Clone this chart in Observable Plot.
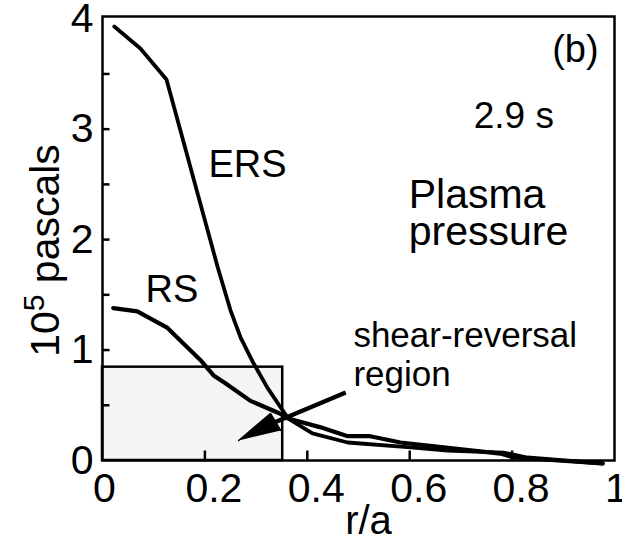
<!DOCTYPE html>
<html><head><meta charset="utf-8">
<script src="https://cdn.jsdelivr.net/npm/d3@7"></script>
<script src="https://cdn.jsdelivr.net/npm/@observablehq/plot@0.6"></script>
<style>html,body{margin:0;padding:0;background:#fff;}</style>
</head><body><div id="chart"></div>
<script>
// ERS profile (enhanced reversed shear)
const ersX = [0.023, 0.074, 0.125, 0.225, 0.25, 0.27, 0.295, 0.322, 0.348, 0.363, 0.41, 0.479, 0.602, 0.674, 0.783, 0.83, 0.977];
const ersY = [3.93, 3.73, 3.45, 1.75, 1.36, 1.11, 0.88, 0.66, 0.48, 0.38, 0.245, 0.163, 0.118, 0.09, 0.072, 0.027, -0.027];
// RS profile (reversed shear)
const rsX = [0.021, 0.068, 0.127, 0.191, 0.217, 0.24, 0.289, 0.344, 0.363, 0.426, 0.479, 0.523, 0.582, 0.777, 0.803, 0.977];
const rsY = [1.38, 1.35, 1.20, 0.91, 0.77, 0.70, 0.54, 0.43, 0.38, 0.30, 0.22, 0.22, 0.163, 0.063, 0.027, -0.027];

const xTickValues = [0.2, 0.4, 0.6, 0.8];
const xLabelValuesWide = [0.2, 0.4, 0.6, 0.8];
const xLabelValuesNarrow = [0, 1];
const yTickValues = [0.5, 1, 1.5, 2, 2.5, 3, 3.5];
const yLabelValues = [0, 1, 2, 3, 4];

// shaded shear-reversal region
const shadeX = [0, 0.352];
const shadeY = [0, 0.845];

// arrow pointing into the region
const arrowLineX = [0.475, 0.338];
const arrowLineY = [0.616, 0.349];
const arrowHeadX = [0.266, 0.328, 0.348];
const arrowHeadY = [0.181, 0.426, 0.272];

const curveLabels = ["ERS", "RS"];
const curveLabelX = [0.207, 0.084];
const curveLabelY = [2.563, 1.431];

const panelLabel = "(b)";
const panelLabelX = 0.969, panelLabelY = 3.605;
const timeLabel = "2.9 s";
const timeLabelX = 0.725, timeLabelY = 3.007;
const titleLines = ["Plasma", "pressure"];
const titleX = [0.598, 0.598];
const titleY = [2.283, 1.947];
const regionLines = ["shear-reversal", "region"];
const regionX = [0.49, 0.49];
const regionY = [1.024, 0.679];

const yLabel = "10⁵ pascals";
const xLabel = "r/a";

const W = 622, H = 539, ML = 102, MR = 8, MT = 16, MB = 79;
const xDomain = [0, 1], yDomain = [0, 4.02];
const frameW = W - ML - MR, frameH = H - MT - MB;
// tick lengths in pixels, converted to data units for the inward ticks
const xTickLen = 10 * (yDomain[1] - yDomain[0]) / frameH;
const yTickLen = 7 * (xDomain[1] - xDomain[0]) / frameW;

const toRows = (xs, ys) => xs.map((x, i) => ({x, y: ys[i]}));
const idx = (a) => a.map((_, i) => i);
const fmt = d => String(d);

const plot = Plot.plot({
  width: W,
  height: H,
  marginLeft: ML,
  marginRight: MR,
  marginTop: MT,
  marginBottom: MB,
  style: {fontFamily: "'Liberation Sans', Arial, sans-serif", fontSize: "41px", color: "black", background: "white", overflow: "visible"},
  x: {domain: xDomain, axis: null},
  y: {domain: yDomain, axis: null},
  marks: [
    Plot.rect([0], {x1: shadeX[0], x2: shadeX[1], y1: shadeY[0], y2: shadeY[1], fill: "#f4f4f4", stroke: "black", strokeWidth: 2.5}),
    Plot.frame({stroke: "black", strokeWidth: 2.5}),
    // inward tick marks
    Plot.link(yTickValues, {x1: xDomain[0], x2: xDomain[0] + yTickLen, y1: d => d, y2: d => d, stroke: "black", strokeWidth: 2.5}),
    Plot.link(xTickValues, {x1: d => d, x2: d => d, y1: yDomain[0], y2: yDomain[0] + xTickLen, stroke: "black", strokeWidth: 2.5}),
    // tick labels
    Plot.axisY({ticks: yLabelValues, tickSize: 0, tickPadding: 9, fontSize: 41, label: null, tickFormat: fmt}),
    Plot.axisX({ticks: xLabelValuesWide, tickSize: 0, tickPadding: 12, dx: 9, fontSize: 41, label: null, tickFormat: fmt}),
    Plot.axisX({ticks: xLabelValuesNarrow, tickSize: 0, tickPadding: 12, dx: 2, fontSize: 41, label: null, tickFormat: fmt}),
    Plot.line(toRows(ersX, ersY), {x: "x", y: "y", stroke: "black", strokeWidth: 3.8, strokeLinejoin: "round"}),
    Plot.line(toRows(rsX, rsY), {x: "x", y: "y", stroke: "black", strokeWidth: 4.2, strokeLinejoin: "round"}),
    Plot.link([0], {x1: arrowLineX[0], y1: arrowLineY[0], x2: arrowLineX[1], y2: arrowLineY[1], stroke: "black", strokeWidth: 4.5}),
    Plot.line(toRows(arrowHeadX, arrowHeadY), {x: "x", y: "y", fill: "black", stroke: "black", strokeWidth: 1.5, strokeLinejoin: "round"}),
    Plot.text(idx(curveLabels), {x: i => curveLabelX[i], y: i => curveLabelY[i], text: i => curveLabels[i], textAnchor: "start", lineAnchor: "bottom", fontSize: 38}),
    Plot.text([panelLabel], {x: panelLabelX, y: panelLabelY, text: d => d, textAnchor: "end", lineAnchor: "bottom", fontSize: 38}),
    Plot.text([timeLabel], {x: timeLabelX, y: timeLabelY, text: d => d, textAnchor: "start", lineAnchor: "bottom", fontSize: 37}),
    Plot.text(idx(titleLines), {x: i => titleX[i], y: i => titleY[i], text: i => titleLines[i], textAnchor: "start", lineAnchor: "bottom", fontSize: 41}),
    Plot.text(idx(regionLines), {x: i => regionX[i], y: i => regionY[i], text: i => regionLines[i], textAnchor: "start", lineAnchor: "bottom", fontSize: 35}),
    Plot.text([yLabel], {frameAnchor: "left", rotate: -90, dx: -44, dy: 12, text: d => d, textAnchor: "middle", lineAnchor: "bottom", fontSize: 41}),
    Plot.text([xLabel], {frameAnchor: "bottom", dx: 10, dy: 73, text: d => d, textAnchor: "middle", lineAnchor: "bottom", fontSize: 40})
  ]
});

// render the exponent of the y label as a real superscript
plot.querySelectorAll("text").forEach(t => {
  if (t.textContent === yLabel) {
    const ns = "http://www.w3.org/2000/svg";
    while (t.firstChild) t.removeChild(t.firstChild);
    t.appendChild(document.createTextNode("10"));
    const sup = document.createElementNS(ns, "tspan");
    sup.setAttribute("dy", "-15");
    sup.setAttribute("font-size", "30");
    sup.textContent = "5";
    t.appendChild(sup);
    const rest = document.createElementNS(ns, "tspan");
    rest.setAttribute("dy", "15");
    rest.textContent = " pascals";
    t.appendChild(rest);
  }
});

document.getElementById("chart").appendChild(plot);
</script>
</body></html>
